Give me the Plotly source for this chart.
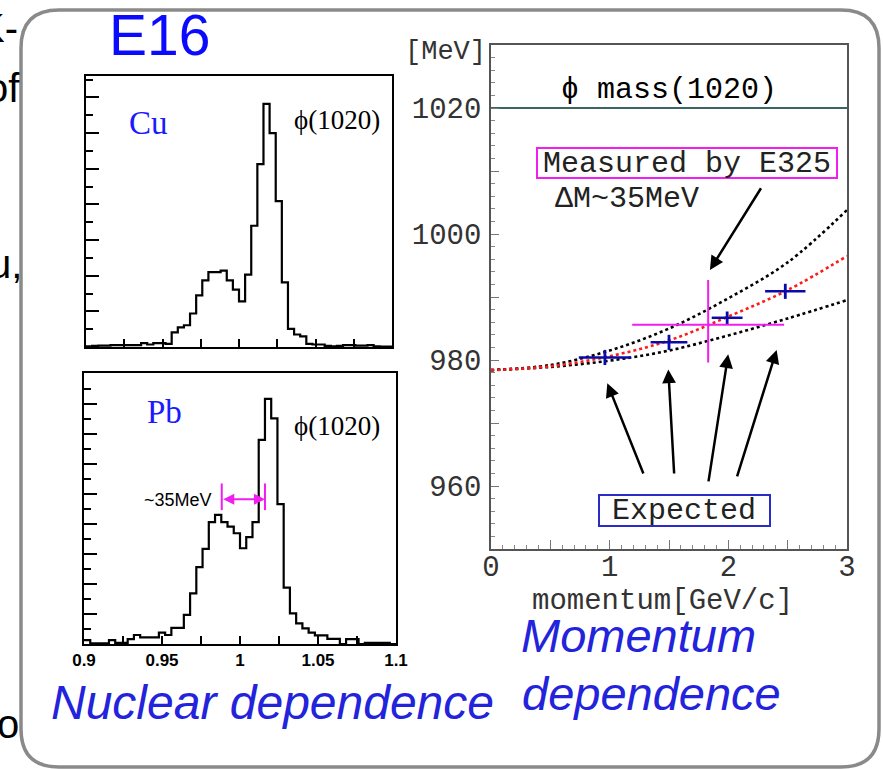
import numpy as np
import plotly.graph_objects as go

W, H = 883, 769

# ---------------- data ----------------
# invariant-mass histograms, 50 bins of 4 MeV between 0.9 and 1.1 GeV
bin_lo, bin_hi, n_bins = 0.9, 1.1, 50
cu_counts = [2, 3, 4, 4, 5, 5, 5, 5, 5, 11,
             7, 11, 11, 9, 41, 55, 61, 94, 145, 187,
             210, 210, 214, 187, 161, 128, 203, 340, 513, 682,
             600, 409, 181, 51, 35, 30, 9, 7, 7, 3,
             2, 3, 5, 5, 4, 4, 5, 2, 1, 1]
pb_counts = [13, 2, 2, 2, 13, 4, 4, 16, 30, 22,
             22, 22, 38, 30, 54, 54, 97, 169, 256, 317,
             406, 430, 406, 391, 369, 319, 356, 406, 680, 817,
             752, 466, 188, 102, 69, 52, 38, 29, 29, 17,
             17, 0, 16, 16, 0, 4, 4, 4, 4, 0]
hist_ticks = [0.9, 0.925, 0.95, 0.975, 1.0, 1.025, 1.05, 1.075, 1.1]
hist_ticktext = ["0.9", "", "0.95", "", "1", "", "1.05", "", "1.1"]

# momentum dependence of phi mass
meas_p = [0.96, 1.50, 1.99, 2.48]
meas_m = [980.4, 982.8, 986.7, 990.9]
meas_dp = [0.22, 0.155, 0.13, 0.17]
meas_dm = [1.2, 1.2, 1.0, 1.2]

e325_p = [1.83]
e325_m = [985.6]
e325_dp = [0.64]
e325_dm_up = [7.1]
e325_dm_dn = [6.0]

curve_p = [0.0, 0.5, 1.0, 1.5, 2.0, 2.5, 3.0]
curve_upper = [978.4, 979.2, 981.5, 985.0, 989.8, 995.5, 1003.8]
curve_mid = [978.4, 979.0, 980.6, 983.1, 986.9, 991.1, 996.5]
curve_lower = [978.4, 978.9, 979.9, 981.5, 983.9, 986.6, 989.5]
phi_mass = 1020

mom_tickvals = [0, 0.5, 1, 1.5, 2, 2.5, 3]
mom_ticktext = ["0", "", "1", "", "2", "", "3"]
mass_tickvals = [950, 960, 970, 980, 990, 1000, 1010, 1020, 1030]
mass_ticktext = ["", "960", "", "980", "", "1000", "", "1020", ""]

# ---------------- helpers ----------------
def PX(x):
    return x / W


def PY(y):
    return 1 - y / H


MONO = "Liberation Mono"
SERIF = "Liberation Serif"
SANS = "Liberation Sans"
MAGENTA = "#f01ef0"

edges = bin_lo + (bin_hi - bin_lo) / n_bins * np.arange(n_bins + 1)

fig = go.Figure()

fig.add_trace(go.Scatter(x=edges, y=cu_counts + [cu_counts[-1]], mode="lines",
                         line=dict(shape="hv", color="black", width=2.2),
                         xaxis="x", yaxis="y", showlegend=False))
fig.add_trace(go.Scatter(x=edges, y=pb_counts + [pb_counts[-1]], mode="lines",
                         line=dict(shape="hv", color="black", width=2.2),
                         xaxis="x2", yaxis="y2", showlegend=False))

# right panel
fig.add_trace(go.Scatter(x=[0, 3], y=[phi_mass, phi_mass], mode="lines",
                         line=dict(color="#3d6464", width=2.2),
                         xaxis="x3", yaxis="y3", showlegend=False))
for ys, col in [(curve_upper, "black"), (curve_lower, "black"), (curve_mid, "#ff1a1a")]:
    fig.add_trace(go.Scatter(x=curve_p, y=ys, mode="lines",
                             line=dict(shape="spline", color=col, width=2.6, dash="dot"),
                             xaxis="x3", yaxis="y3", showlegend=False))
fig.add_trace(go.Scatter(x=meas_p, y=meas_m, mode="markers",
                         marker=dict(size=1, color="#0a0aa8"),
                         error_x=dict(type="data", array=meas_dp, color="#0a0aa8", thickness=2.5, width=0),
                         error_y=dict(type="data", array=meas_dm, color="#0a0aa8", thickness=2.8, width=0),
                         xaxis="x3", yaxis="y3", showlegend=False))
fig.add_trace(go.Scatter(x=e325_p, y=e325_m, mode="markers",
                         marker=dict(size=10, color="rgba(0,0,0,0)", symbol="circle-open",
                                     line=dict(color=MAGENTA, width=2)),
                         error_x=dict(type="data", array=e325_dp, color=MAGENTA, thickness=2, width=0),
                         error_y=dict(type="data", array=e325_dm_up, arrayminus=e325_dm_dn,
                                      color=MAGENTA, thickness=2, width=0),
                         xaxis="x3", yaxis="y3", showlegend=False))

hist_x_common = dict(range=[bin_lo, bin_hi], showline=True, mirror=True, linecolor="black",
                     linewidth=2, ticks="inside", tickvals=hist_ticks, ticklen=8, tickwidth=2,
                     tickcolor="black", showgrid=False, zeroline=False, fixedrange=True)
hist_y_common = dict(showline=True, mirror=True, linecolor="black", linewidth=2,
                     ticks="inside", tick0=0, dtick=100, ticklen=13, tickwidth=2,
                     tickcolor="black", showticklabels=False, showgrid=False, zeroline=False,
                     minor=dict(ticks="inside", dtick=50, ticklen=7, tickwidth=2, tickcolor="black"))

layout = dict(
    width=W, height=H, margin=dict(l=0, r=0, t=0, b=0, autoexpand=False),
    paper_bgcolor="white", plot_bgcolor="rgba(0,0,0,0)", showlegend=False,
    xaxis=dict(domain=[PX(86), PX(392)], anchor="y", showticklabels=False, **hist_x_common),
    yaxis=dict(domain=[PY(347), PY(76)], anchor="x", range=[0, 760], **hist_y_common),
    xaxis2=dict(domain=[PX(84), PX(396)], anchor="y2", ticktext=hist_ticktext,
                tickfont=dict(family=SANS, size=17, color="black", weight="bold"),
                ticklabelstandoff=0, **hist_x_common),
    yaxis2=dict(domain=[PY(644), PY(373)], anchor="x2", range=[0, 903], **hist_y_common),
    xaxis3=dict(domain=[PX(491), PX(847)], anchor="y3", range=[0, 3], showline=True, mirror=True,
                linecolor="#555", linewidth=1.5, ticks="inside", tickvals=mom_tickvals,
                ticktext=mom_ticktext, ticklen=9, tickwidth=1, tickcolor="#777",
                minor=dict(ticks="inside", dtick=0.1, ticklen=4, tickwidth=1, tickcolor="#888"),
                tickfont=dict(family=MONO, size=29, color="#333"), ticklabelstandoff=-10,
                showgrid=False, zeroline=False, fixedrange=True),
    yaxis3=dict(domain=[PY(549), PY(45)], anchor="x3", range=[950, 1030], showline=True, mirror=True,
                linecolor="#555", linewidth=1.5, ticks="inside", tickvals=mass_tickvals,
                ticktext=mass_ticktext, ticklen=8, tickwidth=1, tickcolor="#777",
                minor=dict(ticks="inside", dtick=2, ticklen=4, tickwidth=1, tickcolor="#888"),
                tickfont=dict(family=MONO, size=29, color="#333"), ticklabelstandoff=2,
                showgrid=False, zeroline=False, fixedrange=True),
)

# rounded frame
L, R, T, B, r = 21, 879, 10, 767, 38
path = (f"M {PX(L + r)},{PY(T)} L {PX(R - r)},{PY(T)} Q {PX(R)},{PY(T)} {PX(R)},{PY(T + r)} "
        f"L {PX(R)},{PY(B - r)} Q {PX(R)},{PY(B)} {PX(R - r)},{PY(B)} "
        f"L {PX(L + r)},{PY(B)} Q {PX(L)},{PY(B)} {PX(L)},{PY(B - r)} "
        f"L {PX(L)},{PY(T + r)} Q {PX(L)},{PY(T)} {PX(L + r)},{PY(T)} Z")
shapes = [
    dict(type="path", xref="paper", yref="paper", path=path, fillcolor="white",
         line=dict(color="#8a8a8a", width=3.5), layer="below"),
    dict(type="rect", xref="paper", yref="paper", x0=PX(537), x1=PX(837), y0=PY(178), y1=PY(148),
         line=dict(color=MAGENTA, width=2), fillcolor="rgba(0,0,0,0)"),
    dict(type="rect", xref="paper", yref="paper", x0=PX(599), x1=PX(770), y0=PY(526), y1=PY(495),
         line=dict(color="#2b2bc8", width=2), fillcolor="rgba(0,0,0,0)"),
    dict(type="line", xref="x2", yref="y2", x0=0.9883, x1=0.9883, y0=446, y1=535,
         line=dict(color=MAGENTA, width=2)),
    dict(type="line", xref="x2", yref="y2", x0=1.016, x1=1.016, y0=446, y1=535,
         line=dict(color=MAGENTA, width=2)),
]


def txt(x, y, s, size, family, color="black", xanchor="center"):
    return dict(x=PX(x), y=PY(y), xref="paper", yref="paper", text=s, showarrow=False,
                xanchor=xanchor, yanchor="middle",
                font=dict(family=family, size=size, color=color))


BLUE = "#2323dc"
annotations = [
    txt(20, 28, "K-", 40, SANS, xanchor="right"),
    txt(22, 88, "of", 40, SANS, xanchor="right"),
    txt(24, 264, "u,", 40, SANS, xanchor="right"),
    txt(21, 724, "o", 40, SANS, xanchor="right"),
    txt(159, 35, "E16", 57, SANS, "#0a0aff"),
    txt(148, 123, "Cu", 33, SERIF, "#1a1aff"),
    txt(337, 120, "ϕ(1020)", 27, SERIF),
    txt(164, 412, "Pb", 33, SERIF, "#1a1aff"),
    txt(337, 426, "ϕ(1020)", 27, SERIF),
    txt(178, 500, "~35MeV", 18, SANS),
    txt(445, 52, "[MeV]", 27, MONO, "#333"),
    txt(669, 90, "ϕ mass(1020)", 30, MONO),
    txt(687, 164, "Measured by E325", 30, MONO, "#222"),
    txt(627, 199, "ΔM~35MeV", 30, MONO, "#222"),
    txt(684, 511, "Expected", 30, MONO, "#222"),
    txt(662, 601, "momentum[GeV/c]", 29, MONO, "#333"),
    txt(638, 635, "<i>Momentum</i>", 47, SANS, BLUE),
    txt(651, 693, "<i>dependence</i>", 47, SANS, BLUE),
    txt(272, 702, "<i>Nuclear dependence</i>", 48, SANS, BLUE),
]


def arrow(x, y, ax, ay, xr, yr, color="black", width=2.5, side="end"):
    return dict(x=x, y=y, ax=ax, ay=ay, xref=xr, yref=yr, axref=xr, ayref=yr, text="",
                showarrow=True, arrowhead=2, arrowsize=1.1, arrowwidth=width,
                arrowcolor=color, arrowside=side, standoff=0, startstandoff=0)


annotations += [
    arrow(1.845, 994.3, 2.283, 1007.5, "x3", "y3"),
    arrow(0.980, 976.3, 1.289, 961.75, "x3", "y3"),
    arrow(1.494, 978.5, 1.544, 961.75, "x3", "y3"),
    arrow(1.999, 980.9, 1.831, 960.5, "x3", "y3"),
    arrow(2.407, 981.6, 2.070, 961.3, "x3", "y3"),
    arrow(1.016, 482, 0.9883, 482, "x2", "y2", color=MAGENTA, width=2, side="end+start"),
]

layout["shapes"] = shapes
layout["annotations"] = annotations
fig.update_layout(**layout)
fig.write_html("out.html", config={"responsive": False, "displayModeBar": False},
               post_script="document.body.style.margin='0px';document.body.style.overflow='hidden';"
                           "document.documentElement.style.overflow='hidden';")
